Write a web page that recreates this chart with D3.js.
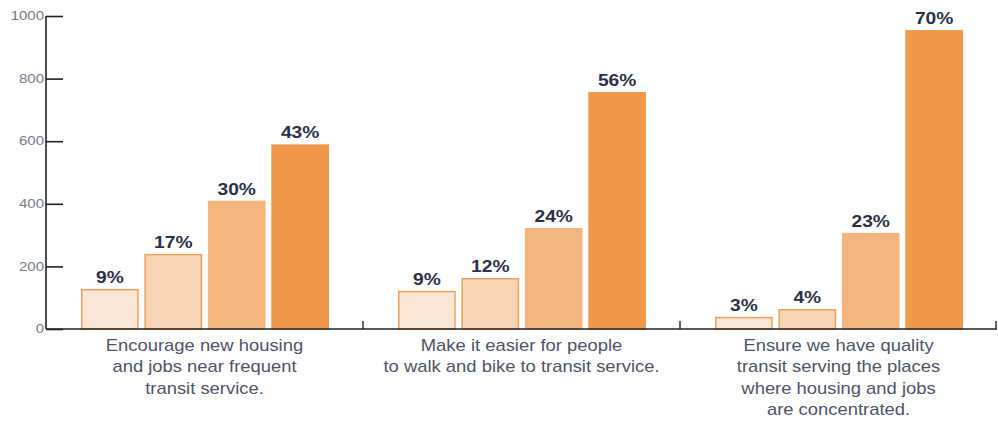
<!DOCTYPE html>
<html lang="en">
<head>
    <meta charset="UTF-8">
    <title>Transit priorities</title>
    <script src="https://d3js.org/d3.v7.min.js"></script>
    <style>
        body {
            margin: 0;
            font-family: "Liberation Sans", Arial, sans-serif;
            background: #fff;
        }
        .tick-label {
            font-size: 12px;
            fill: #737a8e;
        }
        .pct {
            font-size: 16px;
            font-weight: bold;
            fill: #2b3047;
        }
        .cat {
            font-size: 16px;
            fill: #4d5368;
        }
    </style>
</head>
<body>
    <div id="chart"></div>

    <script>
        // Categories (each drawn as several lines)
        const categories = [
            ["Encourage new housing", "and jobs near frequent", "transit service."],
            ["Make it easier for people", "to walk and bike to transit service."],
            ["Ensure we have quality", "transit serving the places", "where housing and jobs", "are concentrated."]
        ];
        // Four response levels per category, counts
        const levels = ["l1", "l2", "l3", "l4"];
        const counts = [
            [128, 240, 410, 590],
            [122, 163, 323, 757],
            [39, 64, 307, 955]
        ];
        const percents = [
            ["9%", "17%", "30%", "43%"],
            ["9%", "12%", "24%", "56%"],
            ["3%", "4%", "23%", "70%"]
        ];
        const yTicks = [0, 200, 400, 600, 800, 1000];

        const fills = ["#fbe6d6", "#f8d4b6", "#f3b57e", "#f0994b"];
        const strokes = ["#f0a058", "#f0a058", "#f3b57e", "#f0994b"];

        // the source text is drawn noticeably wide, so stretch it a bit
        const stretch = 1.15;

        const width = 998, height = 421;
        const margin = { top: 16, right: 1, bottom: 92, left: 46 };
        const innerW = width - margin.left - margin.right;
        const innerH = height - margin.top - margin.bottom;

        const svg = d3.select("#chart").append("svg")
            .attr("width", width)
            .attr("height", height)
            .append("g")
            .attr("transform", `translate(${margin.left},${margin.top})`);

        const x0 = d3.scaleBand()
            .domain(d3.range(categories.length))
            .range([0, innerW]);

        const x1 = d3.scaleBand()
            .domain(levels)
            .range([35, x0.bandwidth() - 34])
            .paddingInner(0.09);

        const y = d3.scaleLinear()
            .domain([0, 1000])
            .range([innerH, 0]);

        // Y axis: ticks point inward, labels on the left
        const yAxis = svg.append("g")
            .call(d3.axisRight(y).tickValues(yTicks).tickSize(17).tickFormat(""));
        yAxis.select(".domain").attr("stroke", "#222").attr("stroke-width", 1.6)
            .attr("d", `M0,${innerH}V0`);
        yAxis.selectAll(".tick line").attr("stroke", "#222").attr("stroke-width", 1.6);
        svg.selectAll(".ylab")
            .data(yTicks)
            .enter().append("text")
            .attr("class", "tick-label")
            .attr("transform", d => `translate(-2,${y(d)}) scale(1.25,1)`)
            .attr("dy", "0.35em")
            .attr("text-anchor", "end")
            .text(d => d);

        // Bars
        const groups = svg.selectAll(".grp")
            .data(counts)
            .enter().append("g")
            .attr("transform", (d, i) => `translate(${x0(i)},0)`);

        groups.selectAll("rect")
            .data(d => d.map((v, j) => ({ v, j })))
            .enter().append("rect")
            .attr("x", d => x1(levels[d.j]) + 0.75)
            .attr("y", d => y(d.v) + 0.75)
            .attr("width", x1.bandwidth() - 1.5)
            .attr("height", d => innerH - y(d.v) - 0.75)
            .attr("fill", d => fills[d.j])
            .attr("stroke", d => strokes[d.j])
            .attr("stroke-width", 1.5);

        groups.selectAll(".pct")
            .data((d, i) => d.map((v, j) => ({ v, j, t: percents[i][j] })))
            .enter().append("text")
            .attr("class", "pct")
            .attr("transform", d =>
                `translate(${x1(levels[d.j]) + x1.bandwidth() / 2},${y(d.v) - 6}) scale(1.2,1)`)
            .attr("text-anchor", "middle")
            .text(d => d.t);

        // X axis: baseline with small upward ticks between categories
        const xAxis = svg.append("g")
            .attr("transform", `translate(0,${innerH})`);
        xAxis.append("line")
            .attr("x1", 0).attr("x2", innerW)
            .attr("stroke", "#222").attr("stroke-width", 1.6);
        xAxis.selectAll(".sep")
            .data(d3.range(1, categories.length + 1))
            .enter().append("line")
            .attr("x1", i => x0.step() * i - (i === categories.length ? 1 : 0))
            .attr("x2", i => x0.step() * i - (i === categories.length ? 1 : 0))
            .attr("y1", 0).attr("y2", -8)
            .attr("stroke", "#222").attr("stroke-width", 1.4);

        // Category labels
        const cats = xAxis.selectAll(".cat")
            .data(categories)
            .enter().append("text")
            .attr("class", "cat")
            .attr("text-anchor", "middle")
            .attr("transform", (d, i) =>
                `translate(${x0(i) + x0.bandwidth() / 2},0) scale(${stretch},1)`);
        cats.selectAll("tspan")
            .data(d => d)
            .enter().append("tspan")
            .attr("x", 0)
            .attr("y", (d, k) => 22 + k * 21.5)
            .text(d => d);
    </script>
</body>
</html>
